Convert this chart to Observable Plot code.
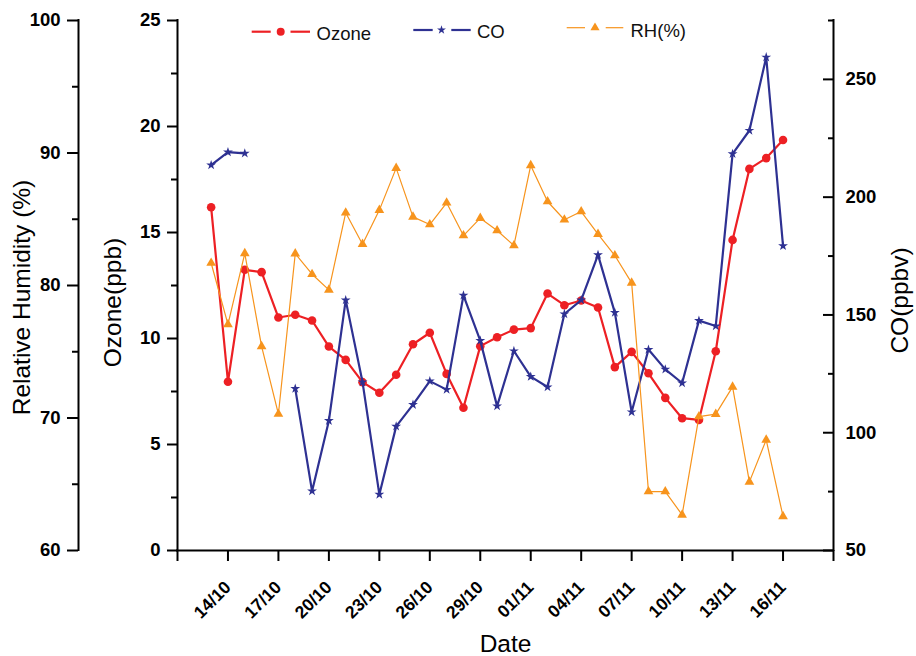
<!DOCTYPE html>
<html><head><meta charset="utf-8">
<script src="https://cdn.jsdelivr.net/npm/d3@7"></script>
<script src="https://cdn.jsdelivr.net/npm/@observablehq/plot@0.6"></script>
<style>
body{margin:0;background:#fff;}
#wrap{position:relative;width:916px;height:656px;font-family:"Liberation Sans",Arial,sans-serif;}
#legend{position:absolute;left:0;top:0;}
</style></head><body><div id="wrap"></div>
<script>
const YEAR = 2013;
const dates = ["13/10","14/10","15/10","16/10","17/10","18/10","19/10","20/10","21/10","22/10","23/10","24/10","25/10","26/10","27/10","28/10","29/10","30/10","31/10",
  "01/11","02/11","03/11","04/11","05/11","06/11","07/11","08/11","09/11","10/11","11/11","12/11","13/11","14/11","15/11","16/11"];
const ozone = [16.19,7.96,13.24,13.13,10.99,11.12,10.85,9.62,8.99,7.94,7.44,8.29,9.73,10.27,8.33,6.73,9.64,10.06,10.42,
  10.49,12.12,11.57,11.79,11.46,8.65,9.37,8.36,7.20,6.24,6.16,9.40,14.65,18.00,18.51,19.36];
const co = [213.6,219.1,218.6,null,null,118.7,75.2,105.1,156.3,121.5,73.8,102.7,111.9,121.9,118.3,158.3,139.1,111.3,134.7,
  123.8,119.4,150.4,156.3,175.5,151.0,108.8,135.3,126.9,121.1,147.6,145.3,218.4,228.3,259.4,179.3];
const rh = [81.7,77.06,82.42,75.4,70.3,82.4,80.85,79.67,85.49,83.12,85.69,88.86,85.18,84.6,86.24,83.77,85.08,84.15,83.02,
  89.06,86.34,84.96,85.58,83.87,82.26,80.2,64.45,64.45,62.69,70.11,70.29,72.35,65.18,68.35,62.57];

const xDomainLabels = ["11/10","19/11"];
const xTicks = ["11/10","14/10","17/10","20/10","23/10","26/10","29/10","01/11","04/11","07/11","10/11","13/11","16/11","19/11"];
const xTickLabels = ["14/10","17/10","20/10","23/10","26/10","29/10","01/11","04/11","07/11","10/11","13/11","16/11"];
const ozDomain = [0, 25], ozTicks = [0,5,10,15,20,25], ozMinor = [2.5,7.5,12.5,17.5,22.5];
const rhDomain = [60, 100], rhTicks = [60,70,80,90,100], rhMinor = [65,75,85,95];
const coDomain = [50, 275], coTicks = [50,100,150,200,250], coMinor = [75,125,175,225,275];
const seriesNames = ["Ozone","CO","RH(%)"];
const colors = {ozone:"#ED2024", co:"#2E3192", rh:"#F7941D"};

const parse = s => { const [d,m] = s.split("/").map(Number); return new Date(Date.UTC(YEAR, m-1, d)); };
const fmt = d => String(d.getUTCDate()).padStart(2,"0") + "/" + String(d.getUTCMonth()+1).padStart(2,"0");
const toOz = dom => v => (v - dom[0]) / (dom[1] - dom[0]) * (ozDomain[1] - ozDomain[0]) + ozDomain[0];
const rhToOz = toOz(rhDomain), coToOz = toOz(coDomain);

const rows = dates.map((s, i) => ({date: parse(s), ozone: ozone[i], co: co[i], rh: rh[i]}));
const coY = d => d.co == null ? NaN : coToOz(d.co);
const rhY = d => rhToOz(d.rh);
const x0 = parse(xDomainLabels[0]), x1 = parse(xDomainLabels[1]);
const labelled = new Set(xTickLabels);
const font = {fontWeight: "bold"};

const W = 916, H = 656, ML = 177, MR = 83, MT = 20, MB = 106;
const span = W - ML - MR;

const chart = Plot.plot({
  width: W, height: H,
  marginLeft: ML, marginRight: MR, marginTop: MT, marginBottom: MB,
  style: {fontFamily: "'Liberation Sans', Arial, sans-serif", background: "white", color: "black", overflow: "visible"},
  x: {type: "utc", domain: [x0, x1], axis: null},
  y: {domain: ozDomain, axis: null},
  marks: [
    Plot.line(rows, {x: "date", y: "ozone", stroke: colors.ozone, strokeWidth: 2.2}),
    Plot.dot(rows, {x: "date", y: "ozone", r: 4.3, fill: colors.ozone, stroke: "none"}),
    Plot.line(rows, {x: "date", y: coY, stroke: colors.co, strokeWidth: 2.2}),
    Plot.dot(rows, {x: "date", y: coY, symbol: "star", r: 3.1, fill: colors.co, stroke: "none"}),
    Plot.line(rows, {x: "date", y: rhY, stroke: colors.rh, strokeWidth: 1.2}),
    Plot.dot(rows, {x: "date", y: rhY, symbol: "triangle", r: 3.6, fill: colors.rh, stroke: "none"}),

    // axis lines
    Plot.ruleY([ozDomain[0]], {strokeWidth: 2, strokeLinecap: "square"}),
    Plot.ruleX([x0], {strokeWidth: 2, strokeLinecap: "square"}),
    Plot.ruleX([x1], {strokeWidth: 2, strokeLinecap: "square"}),
    Plot.ruleX([x0], {dx: -99, strokeWidth: 2, strokeLinecap: "square"}),

    // x axis
    Plot.axisX(xTicks.map(parse), {tickSize: 11, tickPadding: 23, tickRotate: -45, lineAnchor: "middle", textAnchor: "end",
      text: d => labelled.has(fmt(d)) ? fmt(d) : "", fontSize: 17.5, ...font, strokeWidth: 2, label: null}),

    // ozone axis
    Plot.axisY(ozTicks, {anchor: "left", tickSize: 10, tickPadding: 7, text: d => String(d), fontSize: 18.5, ...font, strokeWidth: 2, label: null}),
    Plot.axisY(ozMinor, {anchor: "left", tickSize: 6, fill: "none", strokeWidth: 2, label: null}),

    // RH axis
    Plot.axisY(rhTicks, {y: rhToOz, anchor: "left", dx: -99, tickSize: 11, tickPadding: 7, text: d => String(d), fontSize: 18.5, ...font, strokeWidth: 2, label: null}),
    Plot.axisY(rhMinor, {y: rhToOz, anchor: "left", dx: -99, tickSize: 6, fill: "none", strokeWidth: 2, label: null}),

    // CO axis (ticks inward)
    Plot.axisY(coTicks, {y: coToOz, anchor: "left", dx: span, tickSize: 10, fill: "none", strokeWidth: 2, label: null}),
    Plot.axisY(coMinor, {y: coToOz, anchor: "left", dx: span, tickSize: 5, fill: "none", strokeWidth: 2, label: null}),
    Plot.axisY(coTicks, {y: coToOz, anchor: "right", tickSize: 0, tickPadding: 12, text: d => String(d), fontSize: 18.5, ...font, label: null}),

    // axis titles
    Plot.text(["Relative Humidity (%)"], {text: d => d, frameAnchor: "left", textAnchor: "middle", lineAnchor: "middle", dx: -155, dy: 12, rotate: -90, fontSize: 24.5}),
    Plot.text(["Ozone(ppb)"], {text: d => d, frameAnchor: "left", textAnchor: "middle", lineAnchor: "middle", dx: -64, dy: 17, rotate: -90, fontSize: 24.5}),
    Plot.text(["CO(ppbv)"], {text: d => d, frameAnchor: "right", textAnchor: "middle", lineAnchor: "middle", dx: 67, dy: 15, rotate: -90, fontSize: 24.5}),
    Plot.text(["Date"], {text: d => d, frameAnchor: "bottom", textAnchor: "middle", lineAnchor: "middle", dy: 94, fontSize: 24.5})
  ]
});

const wrap = document.getElementById("wrap");
wrap.appendChild(chart);

// legend overlay
const leg = d3.select(wrap).append("svg").attr("id","legend").attr("width", W).attr("height", 60);
const items = [
  {name: seriesNames[0], color: colors.ozone, sw: 2.2, sym: d3.symbolCircle, size: Math.PI*4*4, l1:[251.7,270.7], m:280.7, l2:[290.5,310], ly:31.7, tx:316.5, ty:39.5},
  {name: seriesNames[1], color: colors.co, sw: 2.2, sym: d3.symbolStar, size: Math.PI*2.8*2.8, l1:[413.3,432.7], m:441.5, l2:[451.3,470.7], ly:30, tx:477, ty:38.3},
  {name: seriesNames[2], color: colors.rh, sw: 1.2, sym: d3.symbolTriangle, size: Math.PI*3.4*3.4, l1:[566.7,585], m:595, l2:[605.7,623.3], ly:27.7, tx:630.5, ty:37.3}
];
for (const it of items) {
  const g = leg.append("g");
  for (const l of [it.l1, it.l2]) g.append("line").attr("x1", l[0]).attr("x2", l[1]).attr("y1", it.ly).attr("y2", it.ly).attr("stroke", it.color).attr("stroke-width", it.sw);
  g.append("path").attr("d", d3.symbol(it.sym, it.size)()).attr("transform", `translate(${it.m},${it.ly})`).attr("fill", it.color);
  g.append("text").attr("x", it.tx).attr("y", it.ty).attr("font-size", 18.5).attr("font-family", "'Liberation Sans', Arial, sans-serif").attr("fill", "#111").text(it.name);
}
</script></body></html>
